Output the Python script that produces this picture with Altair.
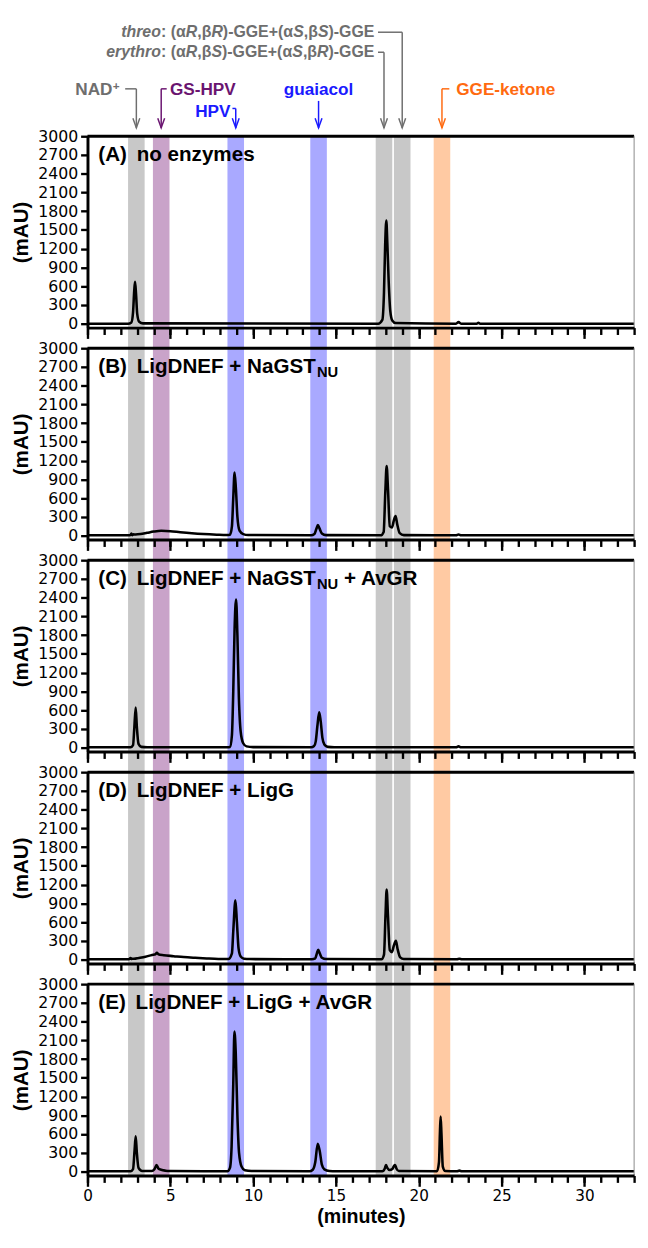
import altair as alt
import pandas as pd

# ---------------- geometry of each panel ----------------
X_MAX = 33.0
Y_MIN, Y_MAX = -63.0, 3000.0
W, H, GAP = 557, 195, 21
REF_W = 557.0  # plot width the annotation offsets below were read against

# ---------------- chromatogram traces (minutes, mAU) ----------------
tA = [0, 2.45, 2.65, 2.75, 2.82, 2.87, 2.93, 3.0, 3.12, 3.35,
      17.55, 17.8, 17.9, 17.97, 18.04, 18.1, 18.18, 18.28, 18.4, 18.6,
      22.25, 22.4, 22.55, 23.5, 23.6, 23.7, 33]
vA = [0, 0, 20, 180, 520, 670, 480, 160, 30, 5,
      0, 60, 500, 1250, 1650, 1300, 700, 200, 50, 10,
      0, 25, 0, 0, 15, 0, 0]

tB = [0, 2.5, 2.6, 2.65, 2.7, 2.78, 2.9, 3.2, 3.6, 4.0, 4.45, 5.0, 5.6, 6.3, 7.0, 7.8,
      8.4, 8.6, 8.72, 8.8, 8.88, 8.96, 9.05, 9.18, 9.4, 9.7,
      13.5, 13.7, 13.82, 13.91, 14.0, 14.15, 14.4,
      17.7, 17.88, 17.98, 18.06, 18.14, 18.25, 18.38, 18.5, 18.6, 18.7, 18.85, 19.1,
      22.25, 22.4, 22.55, 33]
vB = [5, 5, 12, 35, 8, 20, 18, 25, 45, 65, 78, 72, 55, 38, 25, 15,
      10, 15, 150, 600, 1010, 750, 300, 80, 25, 10,
      5, 25, 110, 170, 120, 35, 8,
      5, 60, 700, 1115, 750, 150, 130, 250, 314, 180, 40, 8,
      5, 18, 5, 5]

tC = [0, 2.6, 2.75, 2.83, 2.91, 2.98, 3.08, 3.25, 3.6,
      8.45, 8.6, 8.72, 8.8, 8.88, 8.97, 9.05, 9.14, 9.25, 9.4, 9.6, 10.0,
      13.5, 13.68, 13.78, 13.88, 13.99, 14.08, 14.18, 14.3, 14.5, 14.9,
      22.25, 22.4, 22.55, 33]
vC = [5, 5, 40, 330, 640, 330, 60, 12, 5,
      5, 10, 200, 900, 1900, 2372, 1800, 800, 250, 70, 20, 8,
      5, 25, 100, 350, 565, 420, 160, 50, 12, 5,
      5, 20, 5, 5]

tD = [0, 2.5, 2.6, 2.65, 2.7, 2.8, 3.1, 3.5, 3.9, 4.1, 4.19, 4.28, 4.6, 5.2, 5.8, 6.5, 7.2, 7.9,
      8.5, 8.72, 8.8, 8.93, 9.02, 9.12, 9.25, 9.45, 9.8,
      13.55, 13.75, 13.85, 13.93, 14.02, 14.15, 14.4,
      17.75, 17.9, 17.99, 18.06, 18.14, 18.25, 18.38, 18.5, 18.62, 18.72, 18.88, 19.1,
      22.3, 22.45, 22.6, 33]
vD = [5, 5, 25, 10, 15, 12, 25, 45, 75, 85, 110, 85, 70, 55, 40, 28, 18, 10,
      8, 100, 450, 950, 600, 180, 50, 15, 8,
      5, 20, 100, 157, 100, 30, 8,
      5, 80, 700, 1120, 700, 150, 120, 230, 300, 170, 35, 8,
      5, 15, 5, 5]

tE = [0, 2.6, 2.75, 2.84, 2.91, 2.98, 3.08, 3.3, 3.9, 4.05, 4.17, 4.28, 4.45, 4.7, 5.0,
      8.45, 8.6, 8.7, 8.8, 8.87, 8.95, 9.05, 9.15, 9.3, 9.5, 9.9,
      13.4, 13.6, 13.75, 13.9, 14.02, 14.15, 14.3, 14.6, 15.0,
      17.8, 17.95, 18.02, 18.1, 18.25, 18.4, 18.5, 18.57, 18.65, 18.8,
      21.1, 21.22, 21.28, 21.32, 21.37, 21.45, 21.6,
      22.3, 22.45, 22.6, 33]
vE = [5, 5, 40, 330, 565, 300, 60, 10, 10, 40, 105, 50, 30, 15, 8,
      5, 60, 400, 1400, 2242, 1900, 900, 300, 80, 20, 8,
      5, 30, 150, 446, 330, 110, 35, 10, 5,
      5, 50, 105, 60, 25, 40, 90, 105, 50, 8,
      5, 150, 650, 880, 600, 80, 8,
      5, 15, 5, 5]

TRACES = [(tA, vA), (tB, vB), (tC, vC), (tD, vD), (tE, vE)]

# ---------------- highlighted retention windows ----------------
band_start = [2.45, 3.95, 8.45, 13.45, 17.4, 18.5, 20.9]
band_end = [3.45, 4.95, 9.45, 14.45, 18.4, 19.5, 21.9]
band_fill = ["#c8c8c8", "#c9a3c9", "#a9a9ff", "#a9a9ff", "#c8c8c8", "#c8c8c8", "#ffcaa3"]

# ---------------- panel titles ----------------
panel_tags = ["(A)", "(B)", "(C)", "(D)", "(E)"]
panel_parts = [
    [("no enzymes", "main")],
    [("LigDNEF + NaGST", "main"), ("NU", "sub")],
    [("LigDNEF + NaGST", "main"), ("NU", "sub"), ("+ AvGR", "main")],
    [("LigDNEF + LigG", "main")],
    [("LigDNEF + LigG + AvGR", "main")],
]

# ---------------- axis ticks ----------------
x_major = [0, 5, 10, 15, 20, 25, 30]
x_minor = list(range(0, 34))
y_ticks = list(range(0, 3001, 300))

# ---------------- compound annotations ----------------
GRAY_T, PURPLE_T, BLUE_T, ORANGE_T = "#6e6e6e", "#6a1470", "#1a1aff", "#ff6a10"
arrow_t = [2.95, 4.45, 8.95, 13.95, 17.9, 19.0, 21.4]
arrow_color = [GRAY_T, PURPLE_T, BLUE_T, BLUE_T, GRAY_T, GRAY_T, ORANGE_T]
arrow_top_px = [-48.3, -48.3, -28.3, -36.0, -85.6, -106.0, -48.3]
connector_from_px = [38.4, 80.7, 147.7, None, 296.0, 296.0, 368.7]
ARROW_TIP_PX = -8.5

label_text = ["NAD", "+", "GS-HPV", "HPV", "guaiacol", "GGE-ketone"]
label_px = [25.5, 25.8, 84.0, 145.7, 13.95 * REF_W / X_MAX, 375.7]
label_py = [-42.3, -47.5, -42.3, -20.0, -42.3, -42.3]
label_align = ["right", "left", "left", "right", "center", "left"]
label_size = [17.5, 12, 17.5, 17.5, 17.5, 17.5]
label_color = [GRAY_T, GRAY_T, PURPLE_T, BLUE_T, BLUE_T, ORANGE_T]

threo_parts = [("threo", True), (": (α", False), ("R", True), (",β", False), ("R", True),
               (")-GGE+(α", False), ("S", True), (",β", False), ("S", True), (")-GGE", False)]
erythro_parts = [("erythro", True), (": (α", False), ("R", True), (",β", False), ("S", True),
                 (")-GGE+(α", False), ("S", True), (",β", False), ("R", True), (")-GGE", False)]
stereo_right_px = 292.4
stereo_py = [-101.0, -81.0]
STEREO_SIZE = 16.2

# Arial/Liberation Sans Bold advance widths (em/1000) for laying out mixed-style text
AB = {" ": 278, "(": 333, ")": 333, "+": 584, ",": 278, "-": 333, ":": 333,
      "A": 722, "B": 722, "C": 722, "D": 722, "E": 667, "F": 611, "G": 778, "H": 722,
      "L": 611, "N": 722, "P": 667, "R": 722, "S": 667, "T": 611, "U": 722, "V": 667,
      "a": 556, "c": 556, "e": 556, "g": 611, "h": 611, "i": 278, "k": 556, "l": 278,
      "m": 889, "n": 611, "o": 611, "r": 389, "s": 556, "t": 333, "u": 611, "v": 556,
      "y": 556, "z": 500, "α": 617, "β": 611}


def tw(s, size):
    return sum(AB.get(c, 600) for c in s) / 1000.0 * size


def ref2t(px):
    # horizontal offset -> minutes
    return px * X_MAX / REF_W


def px2t(px):
    return px * X_MAX / W


def py2v(py):
    return Y_MAX - py * (Y_MAX - Y_MIN) / H


FONT_B = "Liberation Sans"
TICK_FONT = "DejaVu Sans"


def text_layers(df):
    layers = []
    for (align, italic), sub in df.groupby(["align", "italic"]):
        layers.append(
            alt.Chart(sub).mark_text(font=FONT_B, fontWeight="bold",
                                     fontStyle="italic" if italic else "normal",
                                     align=align, baseline="alphabetic")
            .encode(x=alt.X("t:Q", axis=None), y=alt.Y("v:Q", axis=None),
                    text="txt:N", size=alt.Size("fs:Q", scale=None),
                    color=alt.Color("col:N", scale=None))
        )
    return layers


def panel(i):
    last = i == 4
    t, v = TRACES[i]
    trace_df = pd.DataFrame({"t": t, "v": v})
    band_df = pd.DataFrame({"s": band_start, "e": band_end, "col": band_fill})
    one = pd.DataFrame({"k": [0]})

    xscale = alt.Scale(domain=[0, X_MAX], nice=False, zero=False)
    yscale = alt.Scale(domain=[Y_MIN, Y_MAX], nice=False, zero=False)

    minor_axis = alt.Axis(orient="bottom", values=x_minor, tickSize=7, tickWidth=2.4,
                          tickColor="black", domain=False, labels=False, grid=False,
                          title=None, zindex=1)
    major_kw = dict(orient="bottom", values=x_major, tickSize=11, tickWidth=2.4,
                    tickColor="black", domainWidth=3, domainColor="black", grid=False,
                    zindex=1, labels=last)
    if last:
        major_kw.update(labelFont=TICK_FONT, labelFontSize=15.5, labelColor="black",
                        labelPadding=2, labelFlush=False, format="d", title="(minutes)",
                        titleFont=FONT_B, titleFontSize=20, titleFontWeight="bold",
                        titleColor="black", titlePadding=3)
    else:
        major_kw.update(title=None)
    major_axis = alt.Axis(**major_kw)
    y_axis = alt.Axis(orient="left", values=y_ticks, format="d", tickSize=7, tickWidth=2.4,
                      tickColor="black", domainWidth=3, domainColor="black", grid=False,
                      zindex=1, labelFont=TICK_FONT, labelFontSize=16, labelColor="black",
                      labelPadding=3, title="(mAU)", titleFont=FONT_B, titleFontSize=21,
                      titleFontWeight="bold", titleColor="black", titlePadding=6)

    bands = alt.Chart(band_df).mark_rect().encode(
        x=alt.X("s:Q", scale=xscale, axis=minor_axis), x2="e:Q",
        y=alt.value(0), y2=alt.value(H if last else H + GAP),
        color=alt.Color("col:N", scale=None))
    trace = alt.Chart(trace_df).mark_line(color="black", strokeWidth=2.6,
                                          interpolate="monotone").encode(
        x=alt.X("t:Q", scale=xscale, axis=major_axis),
        y=alt.Y("v:Q", scale=yscale, axis=y_axis))
    top_border = alt.Chart(one).mark_rule(color="black", strokeWidth=3).encode(
        x=alt.value(0), x2=alt.value(W), y=alt.value(0))
    right_border = alt.Chart(one).mark_rule(color="#8a8a8a", strokeWidth=1).encode(
        x=alt.value(W), y=alt.value(0), y2=alt.value(H))

    # panel label
    rows = []
    x0 = 11.0
    rows.append((panel_tags[i], x0, 25.0, 21.0))
    x = x0 + tw(panel_tags[i], 21) + 10
    prev = None
    for txt, kind in panel_parts[i]:
        if kind == "sub":
            x += 1
            rows.append((txt, x, 29.5, 15.0))
            x += tw(txt, 15)
        else:
            if prev == "sub":
                x += 6
            rows.append((txt, x, 25.0, 21.0))
            x += tw(txt, 21)
        prev = kind
    lab_df = pd.DataFrame({
        "txt": [r[0] for r in rows], "t": [px2t(r[1]) for r in rows],
        "v": [py2v(r[2]) for r in rows], "fs": [r[3] for r in rows],
        "col": ["black"] * len(rows), "align": ["left"] * len(rows),
        "italic": [False] * len(rows)})

    layers = [bands, trace, top_border, right_border] + text_layers(lab_df)

    if i == 0:
        srows = []
        right_px = stereo_right_px * W / REF_W
        for parts, py in zip([threo_parts, erythro_parts], stereo_py):
            total = sum(tw(p, STEREO_SIZE) for p, _ in parts)
            x = right_px - total
            for p, it in parts:
                srows.append((p, x, py, it))
                x += tw(p, STEREO_SIZE)
        ann = pd.DataFrame({
            "txt": [r[0] for r in srows] + label_text,
            "t": [px2t(r[1]) for r in srows] + [ref2t(p) for p in label_px],
            "v": [py2v(r[2]) for r in srows] + [py2v(p) for p in label_py],
            "fs": [STEREO_SIZE] * len(srows) + label_size,
            "col": [GRAY_T] * len(srows) + label_color,
            "align": ["left"] * len(srows) + label_align,
            "italic": [r[3] for r in srows] + [False] * len(label_text)})
        layers += text_layers(ann)

        arr = pd.DataFrame({"t": arrow_t, "col": arrow_color,
                            "v0": [py2v(p) for p in arrow_top_px],
                            "v1": [py2v(ARROW_TIP_PX)] * len(arrow_t)})
        conn_rows = [(ref2t(c), a, py2v(p), col) for c, a, p, col in
                     zip(connector_from_px, arrow_t, arrow_top_px, arrow_color) if c is not None]
        conn = pd.DataFrame({"t1": [r[0] for r in conn_rows], "t2": [r[1] for r in conn_rows],
                             "v": [r[2] for r in conn_rows], "col": [r[3] for r in conn_rows]})
        layers.append(alt.Chart(arr).mark_rule(strokeWidth=1.5).encode(
            x=alt.X("t:Q", axis=None), y=alt.Y("v0:Q", axis=None), y2="v1:Q",
            color=alt.Color("col:N", scale=None)))
        layers.append(alt.Chart(conn).mark_rule(strokeWidth=1.5).encode(
            x=alt.X("t1:Q", axis=None), x2="t2:Q", y=alt.Y("v:Q", axis=None),
            color=alt.Color("col:N", scale=None)))
        layers.append(alt.Chart(arr).mark_point(
            shape="M -1 -2.8 L 0 0 L 1 -2.8", filled=False, size=49, strokeWidth=1.5,
            opacity=1).encode(
            x=alt.X("t:Q", axis=None), y=alt.Y("v1:Q", axis=None),
            color=alt.Color("col:N", scale=None)))

    return (alt.layer(*layers)
            .resolve_axis(x="independent", y="independent")
            .properties(width=W, height=H))


chart = alt.vconcat(*[panel(i) for i in range(5)], spacing=GAP, bounds="flush").properties(
    padding={"left": 3, "top": 4, "right": 0, "bottom": 0}
).configure_view(strokeWidth=0)

chart.save("out.html", embed_options={"renderer": "svg", "actions": False})
